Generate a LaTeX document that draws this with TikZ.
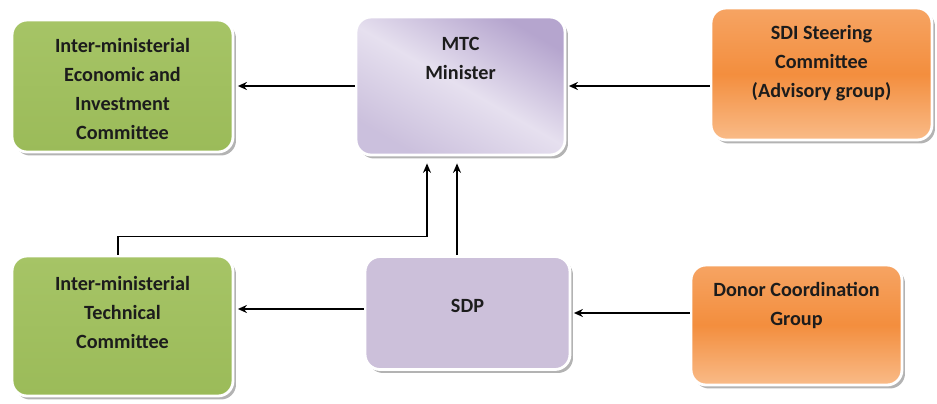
\documentclass[tikz,border=0pt]{standalone}
\usepackage{fontspec}
\setmainfont{Carlito}
\usepackage{tikz}
\usetikzlibrary{arrows.meta}
\usetikzlibrary{calc}
\usetikzlibrary{shadows}
\definecolor{grnbox}{HTML}{9BBB59}
\definecolor{grnboxlt}{HTML}{A6C466}
\definecolor{lavdark}{HTML}{B5A5CE}
\definecolor{lavlight}{HTML}{E6E0EF}
\definecolor{lavsdp}{HTML}{CCC0DA}
\definecolor{orgstrong}{HTML}{F38E3E}
\definecolor{orgtop}{HTML}{F6A463}
\definecolor{orgpale}{HTML}{F9BB88}
\definecolor{txtdark}{HTML}{1C1C1C}
\newcommand{\bxw}{4.42cm}
\newcommand{\bxh}{2.64cm}
\newcommand{\mtcw}{4.18cm}
\newcommand{\mtch}{2.76cm}
\newcommand{\itch}{2.8cm}
\newcommand{\sdpw}{4.1cm}
\newcommand{\sdph}{2.26cm}
\newcommand{\dcgw}{4.22cm}
\newcommand{\dcgh}{2.4cm}
\newcommand{\crnr}{0.3cm}

\begin{document}
\begin{tikzpicture}[x=0.02cm,y=-0.02cm,
    font=\fontsize{11.5}{16.5}\selectfont\bfseries,
    box/.style={rounded corners=\crnr, draw=white, line width=1.6pt,
      drop shadow={shadow xshift=0.06cm, shadow yshift=-0.07cm,
        fill=black!50, opacity=0.6}},
    boxtext/.style={align=center, text=txtdark, inner sep=0pt},
    arr/.style={-{Stealth[length=0.18cm,width=0.16cm]}, line width=1.3pt},
    uparr/.style={-{Stealth[length=0.19cm,width=0.16cm]}, line width=0.75pt}]

    \useasboundingbox (0,0) rectangle (937,403);

    \node (iec) at (122.5,86) [box, top color=grnboxlt, bottom color=grnbox,
      minimum width=\bxw, minimum height=\bxh] {};
    \node (mtc) at (460.5,86) [box, top color=lavdark, bottom color=lavdark!70!white,
      middle color=lavlight, shading angle=-30,
      minimum width=\mtcw, minimum height=\mtch] {};
    \node (sdi) at (821.5,74) [box, top color=orgtop, bottom color=orgpale,
      middle color=orgstrong, minimum width=\bxw, minimum height=\bxh] {};
    \node (itc) at (122.5,326) [box, top color=grnboxlt, bottom color=grnbox,
      minimum width=\bxw, minimum height=\itch] {};
    \node (sdp) at (467.5,313) [box, fill=lavsdp,
      minimum width=\sdpw, minimum height=\sdph] {};
    \node (dcg) at (796.5,325) [box, top color=orgtop, bottom color=orgpale,
      middle color=orgstrong, minimum width=\dcgw, minimum height=\dcgh] {};

    \node (iectext) at (122.5,89) [boxtext]
      {Inter-ministerial\\Economic and\\Investment\\Committee};
    \node (mtctext) at (460.5,58) [boxtext] {MTC\\Minister};
    \node (sditext) at (821.5,63) [boxtext]
      {SDI Steering\\Committee\\(Advisory group)};
    \node (itctext) at (122.5,312) [boxtext]
      {Inter-ministerial\\Technical\\Committee};
    \node (sdptext) at (467.5,306) [boxtext] {SDP};
    \node (dcgtext) at (796.5,305) [boxtext] {Donor Coordination\\Group};

    \draw[arr, shorten >=0.07cm] (mtc.west) -- (iec.east);
    \draw[arr, shorten >=0.05cm] (sdi.west |- mtc.east) -- (mtc.east);
    \draw[arr, shorten >=0.07cm] ([yshift=0.08cm]sdp.west) -- ([yshift=0.08cm]sdp.west -| itc.east);
    \draw[arr, shorten >=0.05cm] (dcg.west |- sdp.east) -- (sdp.east);

    \coordinate (elbow) at ($(mtc.south) + (-0.67cm,-1.6cm)$);
    \draw[uparr, shorten >=0.14cm] ([xshift=-0.09cm]itc.north) |- (elbow)
      -- ([xshift=-0.67cm]mtc.south);
    \draw[uparr, shorten >=0.14cm] ([xshift=-0.07cm]mtc.south |- sdp.north)
      -- ([xshift=-0.07cm]mtc.south);
  \end{tikzpicture}
\end{document}
